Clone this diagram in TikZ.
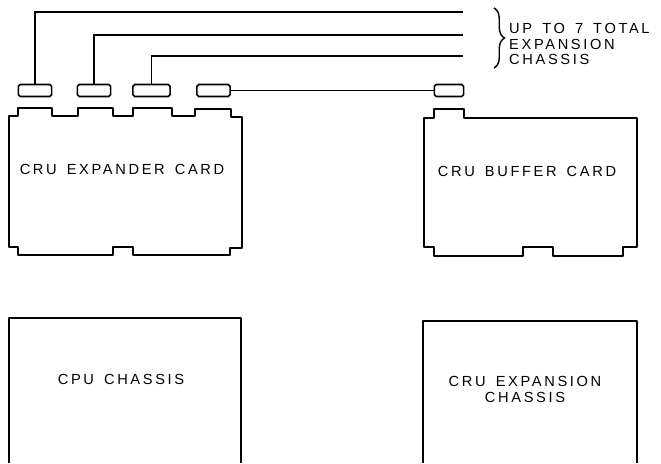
\documentclass[tikz,border=0pt]{standalone}
\usepackage{fontspec}
\setmainfont{Liberation Sans}
\newfontfamily\lettering[LetterSpace=18,WordSpace=1.5]{Liberation Sans}
\usetikzlibrary{decorations.pathreplacing,positioning}
\tikzset{
  plug/.style={draw,rounded corners=1.6pt,line width=1.4pt,inner sep=0pt,minimum width=1.0cm,minimum height=0.36cm},
  wire/.style={line width=0.9pt},
  board/.style={line width=1.5pt,line join=round},
  caption/.style={font=\lettering\fontsize{12.5}{13.6}\selectfont,inner sep=0pt}
}

\begin{document}
\begin{tikzpicture}[x=0.03cm,y=-0.03cm]
\useasboundingbox (0,0) rectangle (661,463);
% expander card with its four edge connectors
\draw[board] (9,116) -- (18,116) -- (18,108) -- (52,108) -- (52,116) -- (78,116) -- (78,108) -- (113,108) -- (113,116) -- (133,116) -- (133,108) -- (172,108) -- (172,116) -- (195,116) -- (195,109) -- (231,109) -- (231,117) -- (242,117) -- (242,248) -- (230,248) -- (230,255) -- (133,255) -- (133,247) -- (113,247) -- (113,255) -- (18,255) -- (18,247) -- (9,247) -- cycle;
\node[caption] (expander) at (122,169) {CRU EXPANDER CARD};
\node[plug] (c1) at (35,90.5) {};
\node[plug] (c2) at (94,90.5) {};
\node[plug,minimum width=1.12cm] (c3) at (151.5,90.5) {};
\node[plug] (c4) at (213.5,90.5) {};
% buffer card
\draw[board] (424,118) -- (434,118) -- (434,109) -- (464,109) -- (464,118) -- (637,118) -- (637,247) -- (623,247) -- (623,256) -- (553,256) -- (553,247) -- (523,247) -- (523,256) -- (434,256) -- (434,247) -- (424,247) -- cycle;
\node[caption] (buffer) at (527,171) {CRU BUFFER CARD};
\node[plug,minimum width=0.88cm] (cb) at (449,90.5) {};
% cables
\coordinate (w1) at (463,12);
\coordinate (w2) at (463,35);
\coordinate (w3) at (463,56);
\draw[wire] (c1.north) |- (w1);
\draw[wire] (c2.north) |- (w2);
\draw[wire] (c3.north) |- (w3);
\draw[wire] (c4) -- (cb);
\draw[line width=1.2pt,decorate,decoration={brace,amplitude=9pt}] (494,8) -- (494,68);
\node[caption,anchor=west,align=left] (upto) at (509,44) {UP TO 7 TOTAL\\EXPANSION\\CHASSIS};
% chassis
\draw[board] (9,463) -- (9,318) -- (241,318) -- (241,463);
\node[caption] (cpu) at (121,379) {CPU CHASSIS};
\draw[board] (423,463) -- (423,321) -- (637,321) -- (637,463);
\node[caption,align=center] (expansion) at (525,389) {CRU EXPANSION\\CHASSIS};
\end{tikzpicture}
\end{document}
